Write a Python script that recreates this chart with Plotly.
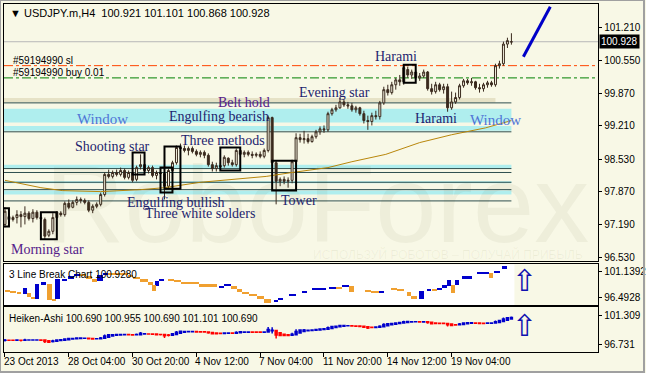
import plotly.graph_objects as go
from datetime import datetime, timedelta

W, H = 646, 373
BG = "#F8F8E6"
CANDLE = "#3A2A1E"

# ---------------- data: USDJPY.m H4 candles ----------------
opens = [97.20, 97.36, 97.30, 97.34, 97.40, 97.36, 97.43, 97.32, 97.45, 97.34,
         97.30, 96.98, 97.06, 97.34, 97.43, 97.40, 97.63, 97.55, 97.65, 97.71,
         97.69, 97.65, 97.49, 97.57, 97.61, 97.81, 98.22, 98.18, 98.26, 98.22,
         98.30, 98.16, 98.26, 98.12, 98.38, 98.42, 98.30, 98.36, 98.20, 98.26,
         98.24, 97.98, 98.30, 98.46, 98.77, 98.75, 98.71, 98.75, 98.69, 98.63,
         98.67, 98.61, 98.42, 98.34, 98.40, 98.40, 98.55, 98.46, 98.42, 98.71,
         98.63, 98.67, 98.63, 98.61, 98.63, 98.59, 98.71, 99.38, 98.46, 98.08,
         98.12, 98.08, 98.10, 98.48, 98.97, 98.93, 98.95, 98.89, 98.99, 99.09,
         99.15, 99.13, 99.46, 99.54, 99.58, 99.70, 99.64, 99.62, 99.54, 99.58,
         99.46, 99.32, 99.30, 99.42, 99.40, 99.68, 99.95, 99.89, 100.05, 100.15,
         100.11, 100.36, 100.25, 100.31, 100.19, 100.23, 100.31, 99.97, 99.91, 100.05,
         99.95, 100.01, 99.58, 99.70, 99.79, 100.03, 100.13, 100.09, 100.11, 99.99,
         99.97, 100.05, 100.09, 100.05, 100.44, 100.48, 100.88, 100.921]
highs = [97.55, 97.43, 97.38, 97.49, 97.47, 97.57, 97.47, 97.51, 97.49, 97.40,
         97.34, 97.10, 97.43, 97.47, 97.47, 97.67, 97.71, 97.69, 97.77, 97.75,
         97.73, 97.69, 97.61, 97.65, 97.85, 98.26, 98.32, 98.30, 98.32, 98.36,
         98.34, 98.30, 98.30, 98.40, 98.63, 98.46, 98.40, 98.40, 98.30, 98.32,
         98.28, 98.34, 98.50, 98.81, 98.85, 98.81, 98.79, 98.79, 98.73, 98.71,
         98.71, 98.65, 98.48, 98.46, 98.46, 98.61, 98.57, 98.52, 98.75, 98.75,
         98.71, 98.71, 98.69, 98.67, 98.69, 98.75, 99.42, 99.40, 98.50, 98.16,
         98.18, 98.16, 98.52, 99.06, 99.05, 99.11, 99.05, 99.03, 99.13, 99.20,
         99.22, 99.50, 99.58, 99.64, 99.79, 99.75, 99.70, 99.68, 99.62, 99.60,
         99.52, 99.42, 99.48, 99.52, 99.72, 100.01, 100.05, 100.11, 100.19, 100.25,
         100.44, 100.42, 100.36, 100.36, 100.29, 100.36, 100.33, 100.07, 100.11, 100.09,
         100.07, 100.07, 99.91, 99.89, 100.07, 100.17, 100.17, 100.19, 100.13, 100.07,
         100.09, 100.13, 100.13, 100.48, 100.54, 100.93, 101.01, 101.101]
lows = [97.14, 97.22, 97.26, 97.22, 97.14, 97.20, 97.28, 97.24, 97.30, 97.26,
        96.90, 96.94, 97.00, 97.30, 97.36, 97.36, 97.51, 97.53, 97.59, 97.63,
        97.61, 97.45, 97.43, 97.53, 97.57, 97.77, 98.14, 98.14, 98.18, 98.18,
        98.12, 98.12, 98.06, 98.08, 98.32, 98.26, 98.24, 98.16, 98.12, 98.10,
        97.71, 97.93, 98.26, 98.42, 98.69, 98.67, 98.61, 98.65, 98.59, 98.57,
        98.55, 98.38, 98.28, 98.28, 98.34, 98.36, 98.40, 98.38, 98.38, 98.59,
        98.57, 98.59, 98.55, 98.57, 98.55, 98.55, 98.67, 98.40, 97.61, 97.98,
        98.02, 97.95, 98.04, 98.44, 98.87, 98.85, 98.85, 98.87, 98.95, 99.03,
        99.07, 99.09, 99.42, 99.50, 99.56, 99.60, 99.56, 99.50, 99.48, 99.42,
        99.26, 99.13, 99.22, 99.34, 99.34, 99.64, 99.83, 99.85, 99.95, 100.03,
        100.05, 100.19, 100.17, 100.15, 100.13, 100.19, 99.93, 99.85, 99.87, 99.91,
        99.87, 99.50, 99.54, 99.66, 99.75, 99.99, 100.05, 100.03, 99.95, 99.89,
        99.91, 99.99, 100.01, 100.01, 100.38, 100.44, 100.80, 100.868]
closes = [97.47, 97.30, 97.34, 97.40, 97.36, 97.43, 97.32, 97.45, 97.34, 97.32,
          96.96, 97.06, 97.34, 97.45, 97.40, 97.63, 97.55, 97.65, 97.71, 97.69,
          97.65, 97.49, 97.57, 97.61, 97.81, 98.22, 98.18, 98.26, 98.22, 98.30,
          98.16, 98.26, 98.10, 98.36, 98.42, 98.30, 98.36, 98.20, 98.26, 98.24,
          97.98, 98.30, 98.46, 98.77, 98.75, 98.71, 98.75, 98.69, 98.63, 98.67,
          98.61, 98.42, 98.34, 98.40, 98.38, 98.57, 98.46, 98.42, 98.71, 98.63,
          98.67, 98.63, 98.61, 98.63, 98.59, 98.71, 99.38, 98.46, 98.08, 98.12,
          98.08, 98.10, 98.48, 98.97, 98.93, 98.95, 98.89, 98.99, 99.09, 99.15,
          99.13, 99.46, 99.54, 99.58, 99.70, 99.64, 99.62, 99.54, 99.58, 99.46,
          99.32, 99.30, 99.42, 99.40, 99.68, 99.95, 99.89, 100.05, 100.15, 100.11,
          100.40, 100.25, 100.31, 100.19, 100.23, 100.31, 99.97, 99.91, 100.05, 99.95,
          100.01, 99.58, 99.70, 99.79, 100.03, 100.13, 100.09, 100.11, 99.99, 99.97,
          100.05, 100.09, 100.05, 100.44, 100.48, 100.88, 100.95, 100.928]

# moving average samples (bar index, value)
ma_bar = [0, 2.5, 9, 14.5, 24, 34, 40, 49, 57, 65.5, 72, 81, 87, 95.5, 104, 112, 120.5, 125.5, 127]
ma_val = [98.10, 98.06, 97.95, 97.89, 97.87, 97.91, 97.95, 98.06, 98.12, 98.18, 98.26, 98.36,
          98.48, 98.63, 98.87, 99.03, 99.17, 99.28, 99.32]

# horizontal levels / zones (prices)
zone_lines = [99.68, 99.09, 98.34, 98.26, 98.06, 97.91, 97.68]
zone_bands = [(99.28, 99.56), (99.11, 99.21), (98.34, 98.42), (98.04, 98.08), (97.81, 97.89)]
beige_band = (99.69, 99.78)
sl_level = 100.44
buy_level = 100.19
bid_level = 100.928

# candle pattern marks: (first bar, last bar, low price, high price)
pattern_boxes = [(0, 0, 97.16, 97.53), (10, 12, 96.90, 97.45), (33, 34, 98.22, 98.67),
                 (40, 41, 97.85, 98.36), (41, 43, 97.93, 98.79), (55, 58, 98.30, 98.77),
                 (68, 72, 97.89, 98.50), (101, 102, 100.09, 100.46)]
pattern_labels = [
    ("Window", 24.5, 99.36, "#4F74D6", 15), ("Engulfing bearish", 53.75, 99.40, "#1E1E6E", 14),
    ("Belt hold", 60, 99.68, "#55208A", 14), ("Evening star", 82.75, 99.89, "#1E1E6E", 14),
    ("Harami", 98, 100.62, "#1E1E6E", 14), ("Harami", 108, 99.36, "#1E1E6E", 14),
    ("Window", 123, 99.34, "#4F74D6", 15), ("Shooting star", 27, 98.79, "#1E1E6E", 14),
    ("Three methods", 54.75, 98.91, "#1E1E6E", 14), ("Engulfing bullish", 43, 97.65, "#1E1E6E", 14),
    ("Three white solders", 49, 97.43, "#1E1E6E", 14), ("Tower", 73.75, 97.69, "#1E1E6E", 14),
    ("Morning star", 10.75, 96.69, "#55208A", 14),
]
trend_line = ((130, 100.62), (136.75, 101.64))

# 3 Line Break bricks: (bar from, bar to, low, high, up?)
lb_bricks = [
    (0, 1.25, 97.39, 97.56, 0), (1.25, 2.75, 97.21, 97.47, 0), (3, 4, 97.03, 97.39, 0),
    (4.5, 5.5, 97.03, 98.10, 1), (5.5, 6.5, 96.49, 97.21, 0), (6.5, 7.5, 96.14, 96.49, 0),
    (7.5, 8.5, 96.14, 98.82, 1), (9, 10.25, 98.64, 99.17, 1), (10.5, 11.75, 95.96, 98.82, 0),
    (11.75, 12.75, 95.78, 96.14, 0), (12.5, 13.75, 96.14, 99.71, 1), (14.25, 15.5, 99.35, 99.71, 1),
    (15.75, 17.25, 99.71, 100.25, 1), (17.25, 18.75, 100.25, 100.60, 1), (18.75, 20.25, 100.25, 100.60, 0),
    (20.25, 21.75, 99.71, 100.25, 0), (21.75, 23, 99.17, 99.71, 0), (23, 24.5, 99.35, 100.42, 1),
    (24.5, 25.75, 100.42, 100.78, 1), (25.75, 30.75, 100.42, 100.78, 0), (30.75, 32, 100.07, 100.42, 0),
    (32, 33.75, 99.71, 100.07, 0), (33.75, 35.75, 99.17, 99.71, 0), (35.75, 37, 98.64, 99.17, 0),
    (36.75, 37.75, 97.56, 98.64, 0), (37.5, 38.5, 98.46, 99.35, 1), (38.5, 39.75, 99.35, 99.53, 1),
    (41, 42.5, 99.35, 99.53, 0), (42.5, 44.25, 99.17, 99.35, 0), (44.25, 48.75, 98.82, 99.17, 0),
    (48.75, 53.25, 98.28, 98.82, 0), (53.75, 55, 98.10, 98.46, 1), (55, 56.75, 98.46, 98.82, 1),
    (56.75, 58.25, 97.92, 98.46, 0), (58.25, 59.5, 97.39, 97.92, 0), (59.5, 61.25, 97.03, 97.39, 0),
    (61.25, 63.25, 96.67, 97.03, 0), (63.25, 65, 96.14, 96.67, 0), (65, 66.75, 95.42, 96.14, 0),
    (67.5, 68.5, 95.60, 95.96, 1), (68.5, 69.75, 95.96, 96.31, 1), (71.25, 73, 96.67, 97.03, 1),
    (74.5, 75.75, 97.21, 97.56, 1), (77, 78.75, 97.74, 97.92, 1), (78.75, 80.5, 97.74, 97.92, 1),
    (81.25, 83, 97.92, 98.28, 1), (83, 84.5, 97.92, 98.10, 0), (84.5, 86.25, 98.28, 98.64, 1),
    (86.25, 87.5, 97.39, 98.46, 0), (90.25, 91.75, 97.39, 97.56, 0), (91.75, 93.75, 97.21, 97.39, 0),
    (93.75, 95, 97.21, 97.56, 1), (96.75, 98.25, 97.74, 97.92, 0), (98.25, 100, 97.56, 97.74, 0),
    (100.75, 101.75, 96.67, 97.39, 0), (101.75, 103.25, 96.14, 96.67, 0), (103.75, 105, 96.14, 97.56, 1),
    (105.75, 106.75, 97.56, 97.92, 1), (107, 108.25, 97.56, 97.74, 0), (108.25, 109.5, 97.74, 98.10, 1),
    (109.5, 110.75, 98.10, 98.64, 1), (110.75, 111.75, 98.46, 99.53, 1), (111.75, 112.75, 97.21, 98.64, 0),
    (112.75, 113.75, 98.64, 99.53, 1), (114.5, 117, 99.71, 100.25, 1), (118.25, 121.25, 100.60, 100.78, 1),
    (121.25, 122.5, 99.89, 100.78, 0), (122.75, 124.25, 100.78, 101.14, 1), (124.75, 126, 101.50, 102.03, 1),
]

# x-axis labels
xlabel_text = ["23 Oct 2013", "28 Oct 04:00", "30 Oct 20:00", "4 Nov 12:00", "7 Nov 04:00",
               "11 Nov 20:00", "14 Nov 12:00", "19 Nov 04:00"]
xlabel_time = [datetime(2013, 10, 23, 12), datetime(2013, 10, 28, 4), datetime(2013, 10, 30, 20),
               datetime(2013, 11, 4, 12), datetime(2013, 11, 7, 4), datetime(2013, 11, 11, 20),
               datetime(2013, 11, 14, 12), datetime(2013, 11, 19, 4)]
price_ticks = [101.21, 100.55, 99.87, 99.21, 98.53, 97.87, 97.19, 96.53]

# ---------------- bar timestamps (H4, weekdays) ----------------
times = []
t = datetime(2013, 10, 23, 12)
while len(times) < len(closes):
    if t.weekday() < 5:
        times.append(t)
    t += timedelta(hours=4)
idx = list(range(len(closes)))
xlabel_idx = [times.index(tt) for tt in xlabel_time]

# Heiken-Ashi from the candles
ha_c = [(o + h + l + c) / 4 for o, h, l, c in zip(opens, highs, lows, closes)]
ha_o = [(opens[0] + closes[0]) / 2]
for k in range(1, len(closes)):
    ha_o.append((ha_o[-1] + ha_c[k - 1]) / 2)
ha_h = [max(h, a, b) for h, a, b in zip(highs, ha_o, ha_c)]
ha_l = [min(l, a, b) for l, a, b in zip(lows, ha_o, ha_c)]

# ---------------- geometry ----------------
def px_x(p):
    return p / W

def px_y(p):
    return 1 - p / H

XDOM = [px_x(4), px_x(600)]
XR = [-0.25, 148.75]

fig = go.Figure()

fig.add_trace(go.Candlestick(
    x=idx, open=opens, high=highs, low=lows, close=closes, xaxis="x", yaxis="y",
    increasing=dict(line=dict(color=CANDLE, width=1), fillcolor=BG),
    decreasing=dict(line=dict(color=CANDLE, width=1), fillcolor=CANDLE),
    whiskerwidth=0, showlegend=False, hoverinfo="skip"))
fig.add_trace(go.Scatter(x=ma_bar, y=ma_val, mode="lines", xaxis="x", yaxis="y",
                         line=dict(color="#B8860B", width=1), showlegend=False, hoverinfo="skip"))

# 3 line break
for up, col in ((1, "#0000CC"), (0, "#F0A030")):
    bs = [b for b in lb_bricks if b[4] == up]
    fig.add_trace(go.Bar(
        x=[(b[0] + b[1]) / 2 for b in bs], y=[b[3] - b[2] for b in bs], base=[b[2] for b in bs],
        width=[b[1] - b[0] for b in bs], marker=dict(color=col, line=dict(width=0)),
        xaxis="x2", yaxis="y2", showlegend=False, hoverinfo="skip"))

# Heiken Ashi
fig.add_trace(go.Candlestick(
    x=idx, open=ha_o, high=ha_h, low=ha_l, close=ha_c, xaxis="x3", yaxis="y3",
    increasing=dict(line=dict(color="#0000CC", width=1.5), fillcolor="#0000CC"),
    decreasing=dict(line=dict(color="#FF0000", width=1.5), fillcolor="#FF0000"),
    whiskerwidth=0, showlegend=False, hoverinfo="skip"))

axis_common = dict(showgrid=False, zeroline=False, showline=True, mirror=True,
                   linecolor="#000000", linewidth=1)
fig.update_layout(
    width=W, height=H, margin=dict(l=0, r=0, t=0, b=0),
    paper_bgcolor=BG, plot_bgcolor=BG, bargap=0, showlegend=False,
    font=dict(family="Liberation Sans", size=10, color="#000000"),
    xaxis=dict(domain=XDOM, range=XR, anchor="y", showticklabels=False, ticks="",
               rangeslider=dict(visible=False), **axis_common),
    xaxis2=dict(domain=XDOM, range=XR, anchor="y2", showticklabels=False, ticks="", **axis_common),
    xaxis3=dict(domain=XDOM, range=XR, anchor="y3", showticklabels=False, ticks="outside",
                ticklen=4, tickcolor="#000000", tickvals=xlabel_idx,
                rangeslider=dict(visible=False), **axis_common),
    yaxis=dict(domain=[px_y(262), px_y(4)], range=[96.448, 101.698], anchor="x", side="right",
               tickvals=price_ticks, ticktext=["%.3f" % v for v in price_ticks],
               ticks="outside", ticklen=3, tickcolor="#000000", **axis_common),
    yaxis2=dict(domain=[px_y(306), px_y(265)], range=[95.06, 102.39], anchor="x2", side="right",
                tickvals=[101.1392, 96.4928], ticktext=["101.1392", "96.4928"],
                ticks="outside", ticklen=3, tickcolor="#000000", **axis_common),
    yaxis3=dict(domain=[px_y(353), px_y(308)], range=[95.47, 102.57], anchor="x3", side="right",
                tickvals=[101.309, 96.731], ticktext=["101.309", "96.731"],
                ticks="outside", ticklen=3, tickcolor="#000000", **axis_common),
)

shapes = []
# white background of the 3LB panel
shapes.append(dict(type="rect", xref="x2", yref="y2", x0=XR[0], x1=127.75, y0=95.06, y1=102.39,
                   fillcolor="#FFFFFF", line=dict(width=0), layer="below"))
# zones
last = len(closes) - 1
shapes.append(dict(type="rect", xref="x", yref="y", x0=XR[0], x1=123, y0=beige_band[0], y1=beige_band[1],
                   fillcolor="#E6E2C6", line=dict(width=0), layer="below"))
for lo, hi in zone_bands:
    shapes.append(dict(type="rect", xref="x", yref="y", x0=XR[0], x1=last, y0=lo, y1=hi,
                       fillcolor="#AFEEEE", line=dict(width=0), layer="below"))
for lv in zone_lines:
    shapes.append(dict(type="line", xref="x", yref="y", x0=XR[0], x1=last, y0=lv, y1=lv,
                       line=dict(color="#2F4F4F", width=1), layer="below"))
# order lines and bid line
shapes.append(dict(type="line", xref="x", yref="y", x0=XR[0], x1=XR[1], y0=bid_level, y1=bid_level,
                   line=dict(color="#B8B8B8", width=1), layer="below"))
shapes.append(dict(type="line", xref="x", yref="y", x0=XR[0], x1=XR[1], y0=sl_level, y1=sl_level,
                   line=dict(color="#FF4500", width=1, dash="dashdot"), layer="below"))
shapes.append(dict(type="line", xref="x", yref="y", x0=XR[0], x1=XR[1], y0=buy_level, y1=buy_level,
                   line=dict(color="#008000", width=1, dash="dashdot"), layer="below"))
# pattern boxes
for a, b, lo, hi in pattern_boxes:
    shapes.append(dict(type="rect", xref="x", yref="y", x0=a - 1, x1=b + 1, y0=lo, y1=hi,
                       line=dict(color="#000000", width=2), fillcolor="rgba(0,0,0,0)"))
# hand-drawn trend line
shapes.append(dict(type="line", xref="x", yref="y", x0=trend_line[0][0], y0=trend_line[0][1],
                   x1=trend_line[1][0], y1=trend_line[1][1], line=dict(color="#0000C8", width=3)))
# outer window frame
shapes.append(dict(type="rect", xref="paper", yref="paper", x0=0, x1=1, y0=0, y1=1,
                   line=dict(color="#A0A0A0", width=2), fillcolor="rgba(0,0,0,0)"))
fig.update_layout(shapes=shapes)

ann = []
# watermark (translucent so the candles stay visible through it)
ann.append(dict(text="RoboForex", xref="paper", yref="paper", x=px_x(318), y=px_y(204),
                showarrow=False, font=dict(family="Liberation Sans", size=110, color="rgba(60,60,0,0.05)"),
                xanchor="center", yanchor="middle"))
ann.append(dict(text="ИСПОЛЬЗУЙ РОБОТОВ – ПОЛУЧАЙ ПРИБЫЛЬ", xref="paper", yref="paper",
                x=px_x(587), y=px_y(255), showarrow=False, xanchor="right", yanchor="middle",
                font=dict(family="Liberation Sans", size=12, color="rgba(60,60,0,0.06)")))
for txt, bx, pr, col, fs in pattern_labels:
    ann.append(dict(text=txt, x=bx, y=pr, xref="x", yref="y", showarrow=False,
                    font=dict(family="Liberation Serif", size=fs, color=col),
                    xanchor="center", yanchor="middle"))
ann.append(dict(text="▼\u00a0USDJPY.m,H4\u00a0\u00a0100.921 101.101 100.868 100.928", xref="paper",
                yref="paper", x=px_x(8), y=px_y(13), xanchor="left", yanchor="middle", showarrow=False,
                font=dict(size=11)))
ann.append(dict(text="#59194990 sl", xref="paper", yref="paper", x=px_x(11), y=px_y(61),
                xanchor="left", yanchor="middle", showarrow=False, font=dict(size=10)))
ann.append(dict(text="#59194990 buy 0.01", xref="paper", yref="paper", x=px_x(11), y=px_y(73),
                xanchor="left", yanchor="middle", showarrow=False, font=dict(size=10)))
ann.append(dict(text="3 Line Break Chart 100.9280", xref="paper", yref="paper", x=px_x(7),
                y=px_y(275), xanchor="left", yanchor="middle", showarrow=False, font=dict(size=10)))
ann.append(dict(text="Heiken-Ashi 100.690 100.955 100.690 101.101 100.690", xref="paper", yref="paper",
                x=px_x(7), y=px_y(319), xanchor="left", yanchor="middle", showarrow=False,
                font=dict(size=10)))
for yy in (281, 326):
    ann.append(dict(text="⇧", xref="paper", yref="paper", x=px_x(526), y=px_y(yy), xanchor="center",
                    yanchor="middle", showarrow=False,
                    font=dict(family="DejaVu Sans", size=30, color="#1010B0")))
ann.append(dict(text="100.928", xref="paper", yref="paper", x=px_x(601), y=px_y(42), xanchor="left",
                yanchor="middle", showarrow=False, bgcolor="#000000", borderpad=1,
                font=dict(size=10, color="#FFFFFF")))
for k, txt in zip(xlabel_idx, xlabel_text):
    ann.append(dict(text=txt, x=k, xref="x3", y=px_y(362), yref="paper", xanchor="left",
                    yanchor="middle", showarrow=False, xshift=-3, font=dict(size=10)))
fig.update_layout(annotations=ann)

fig.write_html("out.html")
